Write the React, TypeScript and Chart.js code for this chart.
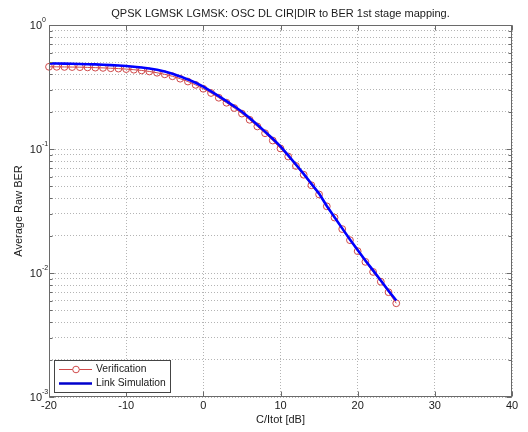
import React, { useEffect, useRef } from "react";
import { Chart, registerables } from "chart.js";

Chart.register(...registerables);

// ---- data ----
const snrDb = [
  -20, -19, -18, -17, -16, -15, -14, -13, -12, -11, -10, -9, -8, -7, -6, -5, -4, -3, -2, -1,
  0, 1, 2, 3, 4, 5, 6, 7, 8, 9, 10, 11, 12, 13, 14, 15, 16, 17, 18, 19, 20, 21, 22, 23, 24, 25,
];
const verification = [
  0.46, 0.46, 0.459, 0.458, 0.457, 0.455, 0.453, 0.451, 0.448, 0.445, 0.441, 0.436, 0.43, 0.422,
  0.412, 0.4, 0.386, 0.369, 0.35, 0.329, 0.306, 0.283, 0.259, 0.236, 0.214, 0.193, 0.172, 0.152,
  0.134, 0.117, 0.101, 0.087, 0.073, 0.062, 0.051, 0.043, 0.0345, 0.028, 0.0226, 0.0184, 0.015,
  0.0123, 0.0102, 0.0085, 0.007, 0.0057,
];
const linkSimulation = [
  0.49, 0.489, 0.488, 0.487, 0.485, 0.483, 0.481, 0.478, 0.475, 0.471, 0.467, 0.461, 0.454, 0.446,
  0.436, 0.422, 0.405, 0.385, 0.364, 0.342, 0.318, 0.292, 0.267, 0.243, 0.221, 0.2, 0.178, 0.157,
  0.138, 0.121, 0.105, 0.089, 0.075, 0.063, 0.0525, 0.0437, 0.0347, 0.0282, 0.0229, 0.0186, 0.0153,
  0.0126, 0.0105, 0.0087, 0.0072, 0.006,
];
const xTicks = [-20, -10, 0, 10, 20, 30, 40];
const yDecadeExponents = [-3, -2, -1, 0];
const minorMultipliers = [2, 3, 4, 5, 6, 7, 8, 9];
const titleText = "QPSK LGMSK LGMSK: OSC DL CIR|DIR to BER 1st stage mapping.";
const xLabel = "C/Itot [dB]";
const yLabel = "Average Raw BER";
const legendLabels = ["Verification", "Link Simulation"];

const RED = "#d04a4a";
const BLUE = "#0000ff";
const FONT = '"Liberation Sans", Arial, sans-serif';
const TEXT = "#1a1a1a";

const decor = {
  id: "matlabDecor",
  beforeDraw(chart: any) {
    const ctx = chart.ctx;
    ctx.save();
    ctx.fillStyle = "#ffffff";
    ctx.fillRect(0, 0, chart.width, chart.height);
    ctx.restore();
  },
  afterDraw(chart: any) {
    const ctx = chart.ctx;
    const a = chart.chartArea;
    const xs = chart.scales.x;
    const ys = chart.scales.y;
    ctx.save();

    // box
    ctx.strokeStyle = "#6a6a6a";
    ctx.lineWidth = 1;
    ctx.setLineDash([]);
    const L = Math.round(a.left) + 0.5;
    const R = Math.round(a.right) - 0.5;
    const T = Math.round(a.top) + 0.5;
    const B = Math.round(a.bottom) - 0.5;
    ctx.strokeRect(L, T, R - L, B - T);

    // x ticks
    ctx.beginPath();
    for (const v of xTicks) {
      const px = Math.round(xs.getPixelForValue(v)) + 0.5;
      ctx.moveTo(px, B);
      ctx.lineTo(px, B - 5);
      ctx.moveTo(px, T);
      ctx.lineTo(px, T + 5);
    }
    // y ticks
    for (const e of yDecadeExponents) {
      const base = Math.pow(10, e);
      const py = Math.round(ys.getPixelForValue(base)) + 0.5;
      ctx.moveTo(L, py);
      ctx.lineTo(L + 5, py);
      ctx.moveTo(R, py);
      ctx.lineTo(R - 5, py);
      if (e < 0) {
        for (const m of minorMultipliers) {
          const pm = Math.round(ys.getPixelForValue(base * m)) + 0.5;
          ctx.moveTo(L, pm);
          ctx.lineTo(L + 3, pm);
          ctx.moveTo(R, pm);
          ctx.lineTo(R - 3, pm);
        }
      }
    }
    ctx.stroke();

    // x tick labels
    ctx.fillStyle = TEXT;
    ctx.font = `11px ${FONT}`;
    ctx.textAlign = "center";
    ctx.textBaseline = "middle";
    for (const v of xTicks) {
      ctx.fillText(String(v), xs.getPixelForValue(v), a.bottom + 9);
    }
    // y tick labels (10^e)
    for (const e of yDecadeExponents) {
      const py = ys.getPixelForValue(Math.pow(10, e));
      ctx.font = `11px ${FONT}`;
      ctx.textAlign = "right";
      ctx.fillText("10", a.left - 7, py + 1);
      ctx.font = `7px ${FONT}`;
      ctx.textAlign = "left";
      ctx.fillText(String(e), a.left - 7, py - 5);
    }

    // title
    ctx.font = `11px ${FONT}`;
    ctx.textAlign = "center";
    ctx.fillText(titleText, (a.left + a.right) / 2, 14);
    // x label
    ctx.fillText(xLabel, (a.left + a.right) / 2, 420);
    // y label
    ctx.save();
    ctx.translate(19, (a.top + a.bottom) / 2);
    ctx.rotate(-Math.PI / 2);
    ctx.fillText(yLabel, 0, 0);
    ctx.restore();

    // legend
    const lx = 54.5, ly = 360.5, lw = 116, lh = 32;
    ctx.fillStyle = "#ffffff";
    ctx.fillRect(lx, ly, lw, lh);
    ctx.strokeStyle = "#444";
    ctx.lineWidth = 1;
    ctx.strokeRect(lx, ly, lw, lh);
    // verification entry
    const y1 = 369.5, y2 = 383.5;
    ctx.strokeStyle = RED;
    ctx.lineWidth = 1;
    ctx.beginPath();
    ctx.moveTo(59, y1);
    ctx.lineTo(92, y1);
    ctx.stroke();
    ctx.fillStyle = "#ffffff";
    ctx.beginPath();
    ctx.arc(76, y1, 3.3, 0, Math.PI * 2);
    ctx.fill();
    ctx.stroke();
    // link simulation entry
    ctx.strokeStyle = "#0000cc";
    ctx.lineWidth = 2.5;
    ctx.beginPath();
    ctx.moveTo(59, y2);
    ctx.lineTo(92, y2);
    ctx.stroke();
    ctx.fillStyle = TEXT;
    ctx.font = `10.3px ${FONT}`;
    ctx.textAlign = "left";
    ctx.textBaseline = "middle";
    ctx.fillText(legendLabels[0], 96, y1);
    ctx.fillText(legendLabels[1], 96, y2);

    ctx.restore();
  },
};

export default function App() {
  const ref = useRef<HTMLCanvasElement | null>(null);
  useEffect(() => {
    if (!ref.current) return;
    const chart = new Chart(ref.current, {
      type: "line",
      data: {
        datasets: [
          {
            label: legendLabels[1],
            data: snrDb.map((x, i) => ({ x, y: linkSimulation[i] })),
            borderColor: BLUE,
            borderWidth: 2.6,
            pointRadius: 0,
            tension: 0,
            order: 0,
            clip: false as any,
          },
          {
            label: legendLabels[0],
            data: snrDb.map((x, i) => ({ x, y: verification[i] })),
            borderColor: RED,
            borderWidth: 1,
            pointRadius: 3.4,
            pointBorderWidth: 1,
            pointBorderColor: RED,
            pointBackgroundColor: "rgba(0,0,0,0)",
            pointStyle: "circle",
            tension: 0,
            order: 1,
            clip: false as any,
          },
        ],
      },
      options: {
        animation: false,
        responsive: false,
        devicePixelRatio: 1,
        layout: { padding: { left: 49, right: 16, top: 25, bottom: 35 } },
        plugins: { legend: { display: false }, title: { display: false }, tooltip: { enabled: false } },
        scales: {
          x: {
            type: "linear",
            min: -20,
            max: 40,
            afterBuildTicks: (scale: any) => {
              scale.ticks = xTicks.map((v) => ({ value: v }));
            },
            ticks: { display: false },
            grid: { color: "#b4b4b4", lineWidth: 1, drawTicks: false },
            border: { display: false, dash: [1, 2] },
          },
          y: {
            type: "logarithmic",
            min: 0.001,
            max: 1,
            afterBuildTicks: (scale: any) => {
              const t: any[] = [];
              for (const e of yDecadeExponents) {
                const base = Math.pow(10, e);
                t.push({ value: base });
                if (e < 0) for (const m of minorMultipliers) t.push({ value: base * m });
              }
              scale.ticks = t;
            },
            ticks: { display: false },
            grid: { color: "#b4b4b4", lineWidth: 1, drawTicks: false },
            border: { display: false, dash: [1, 2] },
          },
        },
      },
      plugins: [decor],
    } as any);
    return () => chart.destroy();
  }, []);
  return (
    <div style={{ position: "absolute", left: 0, top: 0, width: 528, height: 432, background: "#fff" }}>
      <canvas ref={ref} width={528} height={432} style={{ display: "block" }} />
    </div>
  );
}
